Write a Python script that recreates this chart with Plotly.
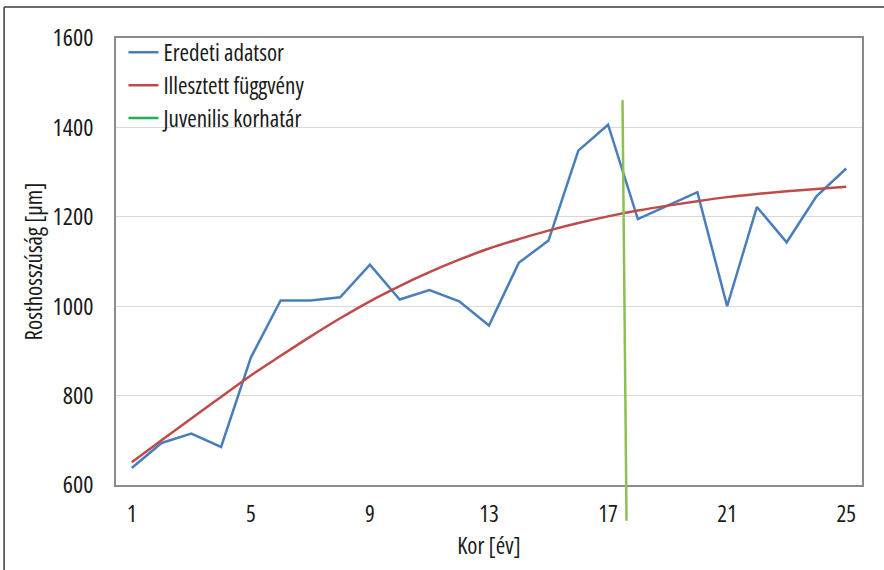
import plotly.graph_objects as go

# ---- data ----
ages = list(range(1, 26))
eredeti = [638, 694, 715, 685, 885, 1013, 1013, 1020, 1093, 1015, 1036, 1011, 957,
           1097, 1147, 1348, 1406, 1195, 1225, 1255, 1000, 1222, 1143, 1246, 1308]
illesztett = [651, 700, 749, 797, 845, 889, 932, 973, 1011, 1045, 1076, 1104, 1129,
              1150, 1169, 1186, 1201, 1214, 1225, 1235, 1244, 1251, 1257, 1262, 1267]
juv_x = [17.485, 17.62]      # juvenile age limit line (top, bottom)
juv_y = [1461, 520]
x_ticks = [1, 5, 9, 13, 17, 21, 25]
y_ticks = [600, 800, 1000, 1200, 1400, 1600]
y_range = [600, 1600]
series_names = ["Eredeti adatsor", "Illesztett függvény", "Juvenilis korhatár"]
x_title = "Kor [év]"
y_title = "Rosthosszúság [µm]"

FONT = "Open Sans, Liberation Sans, Arial, sans-serif"


def narrow(s):
    return f'<span style="font-stretch:condensed">{s}</span>'


fig = go.Figure()
fig.add_trace(go.Scatter(x=ages, y=eredeti, mode="lines", name=narrow(series_names[0]),
                         line=dict(color="#4a7ebb", width=2.5), legendgroup="a"))
fig.add_trace(go.Scatter(x=ages, y=illesztett, mode="lines", name=narrow(series_names[1]),
                         line=dict(color="#be4b48", width=2.5, shape="spline"), legendgroup="b"))
# legend entry for the juvenile limit line
fig.add_trace(go.Scatter(x=[None], y=[None], mode="lines", name=narrow(series_names[2]),
                         line=dict(color="#1fae54", width=2.5), legendgroup="c"))


def to_paper(v):
    return (v - y_range[0]) / (y_range[1] - y_range[0])


fig.add_shape(type="line", xref="x", yref="paper",
              x0=juv_x[0], y0=to_paper(juv_y[0]), x1=juv_x[1], y1=to_paper(juv_y[1]),
              line=dict(color="#8cc152", width=2.5), layer="above")

# outer frame (left and top edges)
fig.add_shape(type="line", xref="paper", yref="paper", x0=-0.150, y0=1.0694, x1=-0.150, y1=-0.25,
              line=dict(color="#3a3a3a", width=1.5))
fig.add_shape(type="line", xref="paper", yref="paper", x0=-0.150, y0=1.0694, x1=1.1, y1=1.0694,
              line=dict(color="#3a3a3a", width=1.5))

fig.update_layout(
    width=884, height=570,
    margin=dict(l=116, r=22, t=38, b=85),
    paper_bgcolor="white", plot_bgcolor="white",
    font=dict(family=FONT, size=23, color="#1a1a1a", weight=370),
    legend=dict(x=0.01, y=1.016, xanchor="left", yanchor="top", bgcolor="rgba(0,0,0,0)",
                font=dict(size=23, weight=370), tracegroupgap=0, itemwidth=30),
    xaxis=dict(range=[0.47, 25.53], tickvals=x_ticks, ticktext=[narrow(t) for t in x_ticks],
               showgrid=False, zeroline=False,
               showline=True, linecolor="#8a8a8a", linewidth=1.5, mirror=True,
               ticks="", ticklabelstandoff=8, tickfont=dict(size=23),
               title=dict(text=narrow(x_title), font=dict(size=23, weight=370), standoff=3)),
    yaxis=dict(range=y_range, tickvals=y_ticks, ticktext=[narrow(t) for t in y_ticks],
               showgrid=True, gridcolor="#d9d9d9", gridwidth=1,
               zeroline=False, showline=True, linecolor="#8a8a8a", linewidth=1.5, mirror=True,
               ticks="", ticklabelstandoff=16, tickfont=dict(size=24),
               title=dict(text=narrow(y_title), font=dict(size=23, weight=370), standoff=4)),
)

fig.write_html("out.html", config={"displayModeBar": False},
               post_script="document.body.style.margin='0';")
